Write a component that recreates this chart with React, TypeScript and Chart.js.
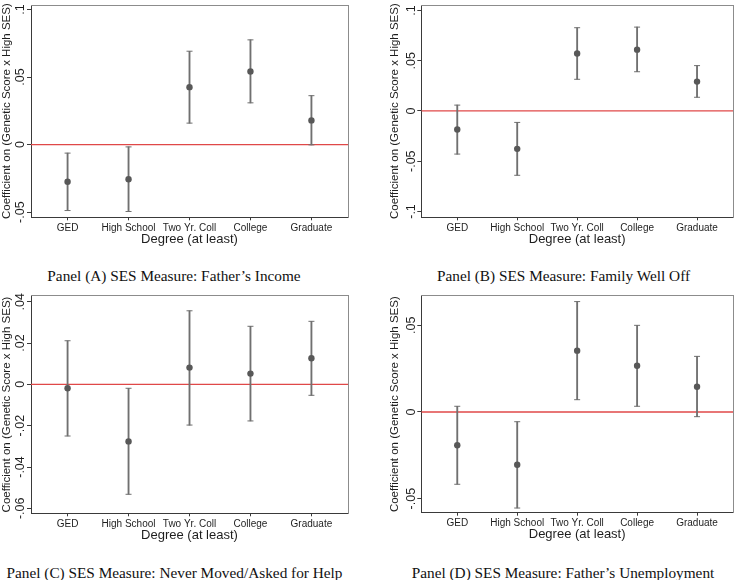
import React, { useEffect, useRef } from "react";
import { Chart, registerables } from "chart.js";

Chart.register(...registerables);

// ---------- data ----------
const categories = ["GED", "High School", "Two Yr. Coll", "College", "Graduate"];
const xTitle = "Degree (at least)";
const yTitle = "Coefficient on (Genetic Score x High SES)";

const estA = [-0.0275, -0.0256, 0.0425, 0.0541, 0.0179];
const lowA = [-0.0488, -0.0495, 0.0159, 0.0309, -0.0002];
const highA = [-0.0063, -0.0017, 0.0691, 0.0775, 0.0362];
const ticksA = [-0.05, 0, 0.05, 0.1];
const captionA = "Panel (A) SES Measure: Father\u2019s Income";

const estB = [-0.0185, -0.0377, 0.0571, 0.061, 0.0292];
const lowB = [-0.0429, -0.064, 0.0315, 0.039, 0.0136];
const highB = [0.0058, -0.0114, 0.0828, 0.0834, 0.0451];
const ticksB = [-0.1, -0.05, 0, 0.05, 0.1];
const captionB = "Panel (B) SES Measure: Family Well Off";

const estC = [-0.0019, -0.0276, 0.0081, 0.0052, 0.0126];
const lowC = [-0.025, -0.0532, -0.0197, -0.0177, -0.0053];
const highC = [0.0211, -0.0019, 0.0356, 0.0281, 0.0305];
const ticksC = [-0.06, -0.04, -0.02, 0, 0.02, 0.04];
const captionC = "Panel (C) SES Measure: Never Moved/Asked for Help";

const estD = [-0.0192, -0.0304, 0.0354, 0.0267, 0.0146];
const lowD = [-0.0417, -0.0554, 0.0071, 0.0033, -0.0027];
const highD = [0.0033, -0.0056, 0.0637, 0.05, 0.0321];
const ticksD = [-0.05, 0, 0.05];
const captionD = "Panel (D) SES Measure: Father\u2019s Unemployment";

// ---------- styles ----------
const SANS = "'Liberation Sans', Arial, Helvetica, sans-serif";
const SERIF = "'Liberation Serif', 'Times New Roman', serif";
const TEXT = "#1e1e1e";
const AXIS = "#3a3a3a";
const FRAME = "#8c8c8c";
const RED = "#e04848";
const WHISKER = "#707070";
const DOT = "#585858";
const X_MIN = 0.4;
const X_MAX = 5.6;

const fmt = (v: number) => {
  if (Math.abs(v) < 1e-12) return "0";
  return String(+v.toFixed(4)).replace(/^(-?)0\./, "$1.");
};

type Panel = {
  est: number[];
  low: number[];
  high: number[];
  ticks: number[];
  yMin: number;
  yMax: number;
  caption: string;
  cl: number; ct: number; cw: number; ch: number;
  aL: number; aT: number; aR: number; aB: number;
  capX: number; capY: number;
};

const panels: Panel[] = [
  { est: estA, low: lowA, high: highA, ticks: ticksA, yMin: -0.0538, yMax: 0.1033, caption: captionA,
    cl: 0, ct: 0, cw: 369, ch: 248, aL: 31, aT: 0.5, aR: 348, aB: 217.3, capX: 174, capY: 275.5 },
  { est: estB, low: lowB, high: highB, ticks: ticksB, yMin: -0.1058, yMax: 0.1054, caption: captionB,
    cl: 388, ct: 0, cw: 350, ch: 248, aL: 421.3, aT: 0.5, aR: 737.3, aB: 217.3, capX: 563.5, capY: 275.5 },
  { est: estC, low: lowC, high: highC, ticks: ticksC, yMin: -0.0624, yMax: 0.0429, caption: captionC,
    cl: 0, ct: 290, cw: 369, ch: 254, aL: 31, aT: 295.7, aR: 348, aB: 513.3, capX: 174.5, capY: 572.7 },
  { est: estD, low: lowD, high: highD, ticks: ticksD, yMin: -0.0581, yMax: 0.0671, caption: captionD,
    cl: 388, ct: 290, cw: 350, ch: 254, aL: 421.3, aT: 295.7, aR: 737.3, aB: 512.7, capX: 563, capY: 572.7 },
];

const rotatedYTicks = {
  id: "rotatedYTicks",
  afterDraw(chart: any) {
    const s = chart.scales.y;
    const ctx = chart.ctx;
    ctx.save();
    ctx.font = `12.5px ${SANS}`;
    ctx.fillStyle = TEXT;
    ctx.textAlign = "center";
    ctx.textBaseline = "middle";
    s.ticks.forEach((t: any) => {
      const y = s.getPixelForValue(t.value);
      ctx.save();
      ctx.translate(s.right - 10, y);
      ctx.rotate(-Math.PI / 2);
      ctx.fillText(fmt(t.value), 0, 0);
      ctx.restore();
    });
    ctx.restore();
  },
};

function makeConfig(p: Panel): any {
  const xs = categories.map((_, i) => i + 1);
  const padTop = p.aT - p.ct;
  const yW = p.aL - p.cl;
  const padRight = p.cl + p.cw - p.aR;
  const xH = p.ct + p.ch - p.aB;
  const titleSize = 13;
  const titlePadBottom = Math.max(0, xH - titleSize * 0.6 - 22);
  return {
    type: "scatter",
    data: {
      datasets: [
        {
          type: "line",
          data: [{ x: X_MIN, y: 0 }, { x: X_MAX, y: 0 }],
          borderColor: RED,
          borderWidth: 1.3,
          pointRadius: 0,
          order: 10,
        },
        {
          type: "bar",
          data: xs.map((x, i) => ({ x, y: [p.low[i], p.high[i]] })),
          backgroundColor: WHISKER,
          borderWidth: 0,
          barThickness: 1.2,
          grouped: false,
          order: 5,
        },
        {
          type: "scatter",
          data: [
            ...xs.map((x, i) => ({ x, y: p.low[i] })),
            ...xs.map((x, i) => ({ x, y: p.high[i] })),
          ],
          pointStyle: "line",
          pointRadius: 3,
          borderColor: WHISKER,
          borderWidth: 1,
          order: 3,
        },
        {
          type: "scatter",
          data: xs.map((x, i) => ({ x, y: p.est[i] })),
          pointStyle: "circle",
          pointRadius: 3.2,
          backgroundColor: DOT,
          borderColor: DOT,
          borderWidth: 0,
          order: 1,
        },
      ],
    },
    options: {
      animation: false,
      responsive: false,
      maintainAspectRatio: false,
      events: [],
      layout: { padding: { top: padTop, left: 0, right: padRight, bottom: 0 } },
      plugins: { legend: { display: false }, tooltip: { enabled: false }, title: { display: false } },
      scales: {
        x: {
          type: "linear",
          position: "bottom",
          min: X_MIN,
          max: X_MAX,
          offset: false,
          afterBuildTicks: (s: any) => {
            s.ticks = xs.map((v) => ({ value: v }));
          },
          afterFit: (s: any) => {
            s.height = xH;
          },
          ticks: {
            callback: (v: number) => categories[Math.round(v) - 1] ?? "",
            font: { family: SANS, size: 10 },
            color: TEXT,
            padding: 2,
            autoSkip: false,
            minRotation: 0,
            maxRotation: 0,
          },
          grid: { display: true, offset: false, drawOnChartArea: false, drawTicks: true, tickLength: 3, color: AXIS, lineWidth: 1 },
          border: { display: true, color: AXIS, width: 1 },
          title: {
            display: true,
            text: xTitle,
            font: { family: SANS, size: titleSize },
            color: TEXT,
            padding: { top: 0, bottom: titlePadBottom },
          },
        },
        y: {
          type: "linear",
          position: "left",
          min: p.yMin,
          max: p.yMax,
          beginAtZero: false,
          afterBuildTicks: (s: any) => {
            s.ticks = p.ticks.map((v) => ({ value: v }));
          },
          afterFit: (s: any) => {
            s.width = yW;
          },
          ticks: { display: false },
          grid: { display: true, offset: false, drawOnChartArea: false, drawTicks: true, tickLength: 4, color: AXIS, lineWidth: 1 },
          border: { display: true, color: AXIS, width: 1 },
          title: {
            display: true,
            text: yTitle,
            font: { family: SANS, size: 11.5 },
            color: TEXT,
            padding: { top: 0, bottom: 0 },
          },
        },
        x2: {
          type: "linear",
          position: "top",
          ticks: { display: false },
          grid: { display: false },
          border: { display: true, color: FRAME, width: 1 },
          afterFit: (s: any) => {
            s.height = 0;
          },
        },
        y2: {
          type: "linear",
          position: "right",
          ticks: { display: false },
          grid: { display: false },
          border: { display: true, color: FRAME, width: 1 },
          afterFit: (s: any) => {
            s.width = 0;
          },
        },
      },
    },
    plugins: [rotatedYTicks],
  };
}

function PanelChart({ p }: { p: Panel }) {
  const ref = useRef<HTMLCanvasElement | null>(null);
  useEffect(() => {
    if (!ref.current) return;
    const chart = new Chart(ref.current, makeConfig(p));
    return () => chart.destroy();
  }, [p]);
  return (
    <>
      <canvas
        ref={ref}
        width={p.cw}
        height={p.ch}
        style={{ position: "absolute", left: p.cl, top: p.ct, width: p.cw, height: p.ch }}
      />
      <div
        style={{
          position: "absolute",
          left: p.capX,
          top: p.capY - 10,
          height: 20,
          lineHeight: "20px",
          transform: "translateX(-50%)",
          whiteSpace: "nowrap",
          fontFamily: SERIF,
          fontSize: 15.3,
          color: "#111",
        }}
      >
        {p.caption}
      </div>
    </>
  );
}

export default function App() {
  return (
    <div
      style={{
        position: "fixed",
        left: 0,
        top: 0,
        width: 738,
        height: 580,
        background: "#ffffff",
        overflow: "hidden",
      }}
    >
      {panels.map((p, i) => (
        <PanelChart key={i} p={p} />
      ))}
    </div>
  );
}
